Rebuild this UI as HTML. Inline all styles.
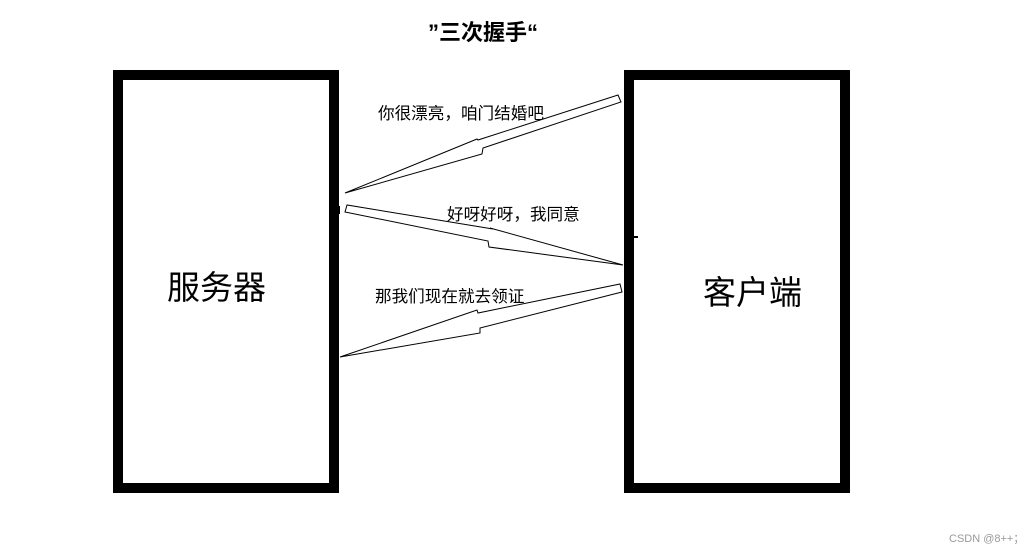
<!DOCTYPE html>
<html><head><meta charset="utf-8"><style>
body{margin:0;width:1036px;height:552px;background:#fff;position:relative;overflow:hidden;font-family:"Liberation Sans","Noto Sans CJK SC",sans-serif}
.box{position:absolute;border:10px solid #000;box-sizing:border-box;background:#fff}
.t{position:absolute;white-space:nowrap;color:#000}
</style></head><body>
<div class="box" style="left:113px;top:70px;width:226px;height:423px"></div>
<div class="box" style="left:624px;top:70px;width:226px;height:423px"></div>
<div class="t" style="left:428px;top:15px;font-size:22px;font-weight:bold">”三次握手“</div>
<div class="t" style="left:167px;top:261px;font-size:33px">服务器</div>
<div class="t" style="left:703px;top:266px;font-size:33px">客户端</div>
<div class="t" style="left:378px;top:100px;font-size:16.6px">你很漂亮，咱门结婚吧</div>
<div class="t" style="left:447px;top:201px;font-size:16.6px">好呀好呀，我同意</div>
<div class="t" style="left:375px;top:283px;font-size:16.6px">那我们现在就去领证</div>
<svg width="1036" height="552" style="position:absolute;left:0;top:0">
<g fill="#fff" stroke="#000" stroke-width="1">
<polygon points="618,95 621,102 483,148 482,154 345,193 477,139 478,140"/>
<polygon points="347,205 345,212 488,241 489,247 623,265 490,228 493,229"/>
<polygon points="620,284 622,292 480,328 480,333 340,357 477,310 478,313"/>
</g>
<rect x="336" y="206" width="4" height="8" fill="#000"/>
<rect x="624" y="236" width="14" height="2" fill="#000"/>
</svg>
<div class="t" style="left:949px;top:530px;font-size:11px;color:#999">CSDN @8++；</div>
</body></html>
